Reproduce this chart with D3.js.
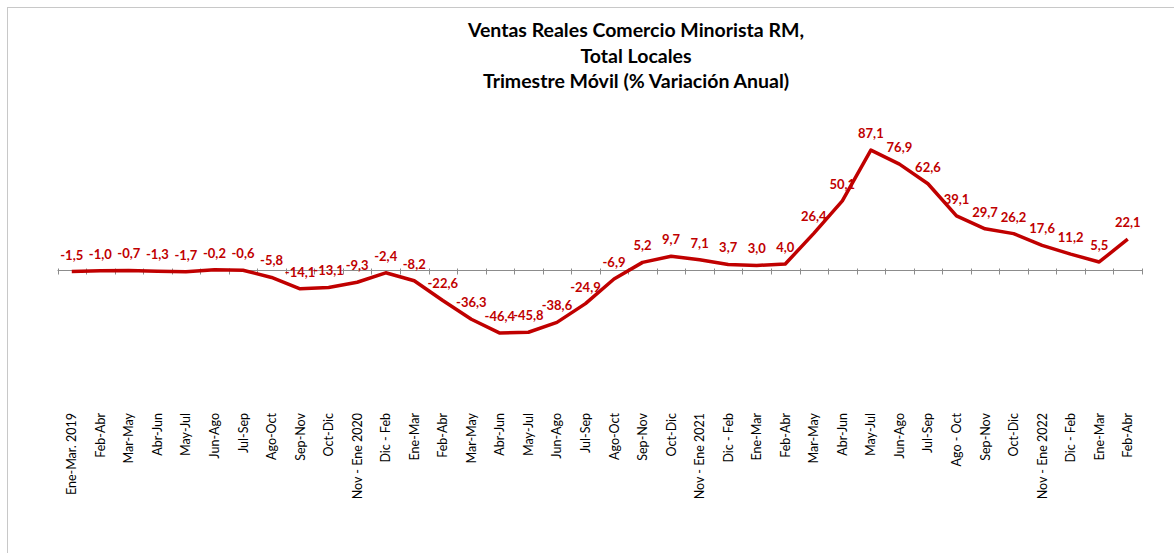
<!DOCTYPE html>
<html><head><meta charset="utf-8">
<script src="https://cdn.jsdelivr.net/npm/d3@7"></script>
<style>body{margin:0;background:#fff;}svg{display:block;}</style>
</head><body><svg id="c" width="1174" height="553"></svg>
<script>
const categories = ["Ene-Mar. 2019","Feb-Abr","Mar-May","Abr-Jun","May-Jul","Jun-Ago","Jul-Sep","Ago-Oct","Sep-Nov","Oct-Dic","Nov - Ene 2020","Dic - Feb","Ene-Mar","Feb-Abr","Mar-May","Abr-Jun","May-Jul","Jun-Ago","Jul-Sep","Ago-Oct","Sep-Nov","Oct-Dic","Nov - Ene 2021","Dic - Feb","Ene-Mar","Feb-Abr","Mar-May","Abr-Jun","May-Jul","Jun-Ago","Jul-Sep","Ago - Oct","Sep-Nov","Oct-Dic","Nov - Ene 2022","Dic - Feb","Ene-Mar","Feb-Abr"];
const values = [-1.5,-1.0,-0.7,-1.3,-1.7,-0.2,-0.6,-5.8,-14.1,-13.1,-9.3,-2.4,-8.2,-22.6,-36.3,-46.4,-45.8,-38.6,-24.9,-6.9,5.2,9.7,7.1,3.7,3.0,4.0,26.4,50.1,87.1,76.9,62.6,39.1,29.7,26.2,17.6,11.2,5.5,22.1];
const titleLines = ["Ventas Reales Comercio Minorista RM,","Total Locales","Trimestre Móvil (% Variación Anual)"];

const svg = d3.select("#c");
const keys = categories.map((c,i)=>i);
const x = d3.scaleBand().domain(keys).range([57.5,1142]);
const y = d3.scaleLinear().domain([-60,100]).range([351.7,132.5]);
const cx = i => x(i) + x.bandwidth()/2;

svg.append("rect").attr("x",7.5).attr("y",7.5).attr("width",1200).attr("height",600)
  .attr("fill","none").attr("stroke","#c8c8c8").attr("stroke-width",1);

svg.append("g").selectAll("text").data(titleLines).join("text")
  .attr("x",636).attr("y",(d,i)=>37+i*25.5).attr("text-anchor","middle")
  .attr("font-family","Lato, 'Open Sans', sans-serif").attr("font-weight","bold")
  .attr("font-size",19.5).attr("fill","#000").text(d=>d);

const y0 = Math.round(y(0))+0.5;
const ax = svg.append("g");
ax.append("line").attr("x1",x.range()[0]).attr("x2",x.range()[1]).attr("y1",y0).attr("y2",y0)
  .attr("stroke","#8c8c8c").attr("stroke-width",1);
const bounds = keys.map(k=>x(k)).concat([x.range()[1]]);
ax.selectAll("line.t").data(bounds).join("line").attr("class","t")
  .attr("x1",d=>Math.round(d)+0.5).attr("x2",d=>Math.round(d)+0.5)
  .attr("y1",y0-2).attr("y2",y0+4).attr("stroke","#8c8c8c").attr("stroke-width",1);

svg.append("g").selectAll("text").data(categories).join("text")
  .attr("transform",(d,i)=>`translate(${cx(i)+4.5},413) rotate(-90)`)
  .attr("text-anchor","end")
  .attr("font-family","Lato, 'Open Sans', sans-serif").attr("font-size",12.5)
  .attr("fill","#000").text(d=>d);

const line = d3.line().x((d,i)=>cx(i)).y(d=>y(d));
svg.append("path").datum(values).attr("d",line).attr("fill","none")
  .attr("stroke","#C00000").attr("stroke-width",3.5).attr("stroke-linejoin","round");

svg.append("g").selectAll("text").data(values).join("text")
  .attr("x",(d,i)=>cx(i)).attr("y",d=>y(d)-12).attr("text-anchor","middle")
  .attr("font-family","Lato, 'Open Sans', sans-serif").attr("font-weight","bold")
  .attr("font-size",13).attr("fill","#C00000")
  .text(d=>d3.format(".1f")(d).replace("−","-").replace(".",","));
</script></body></html>
